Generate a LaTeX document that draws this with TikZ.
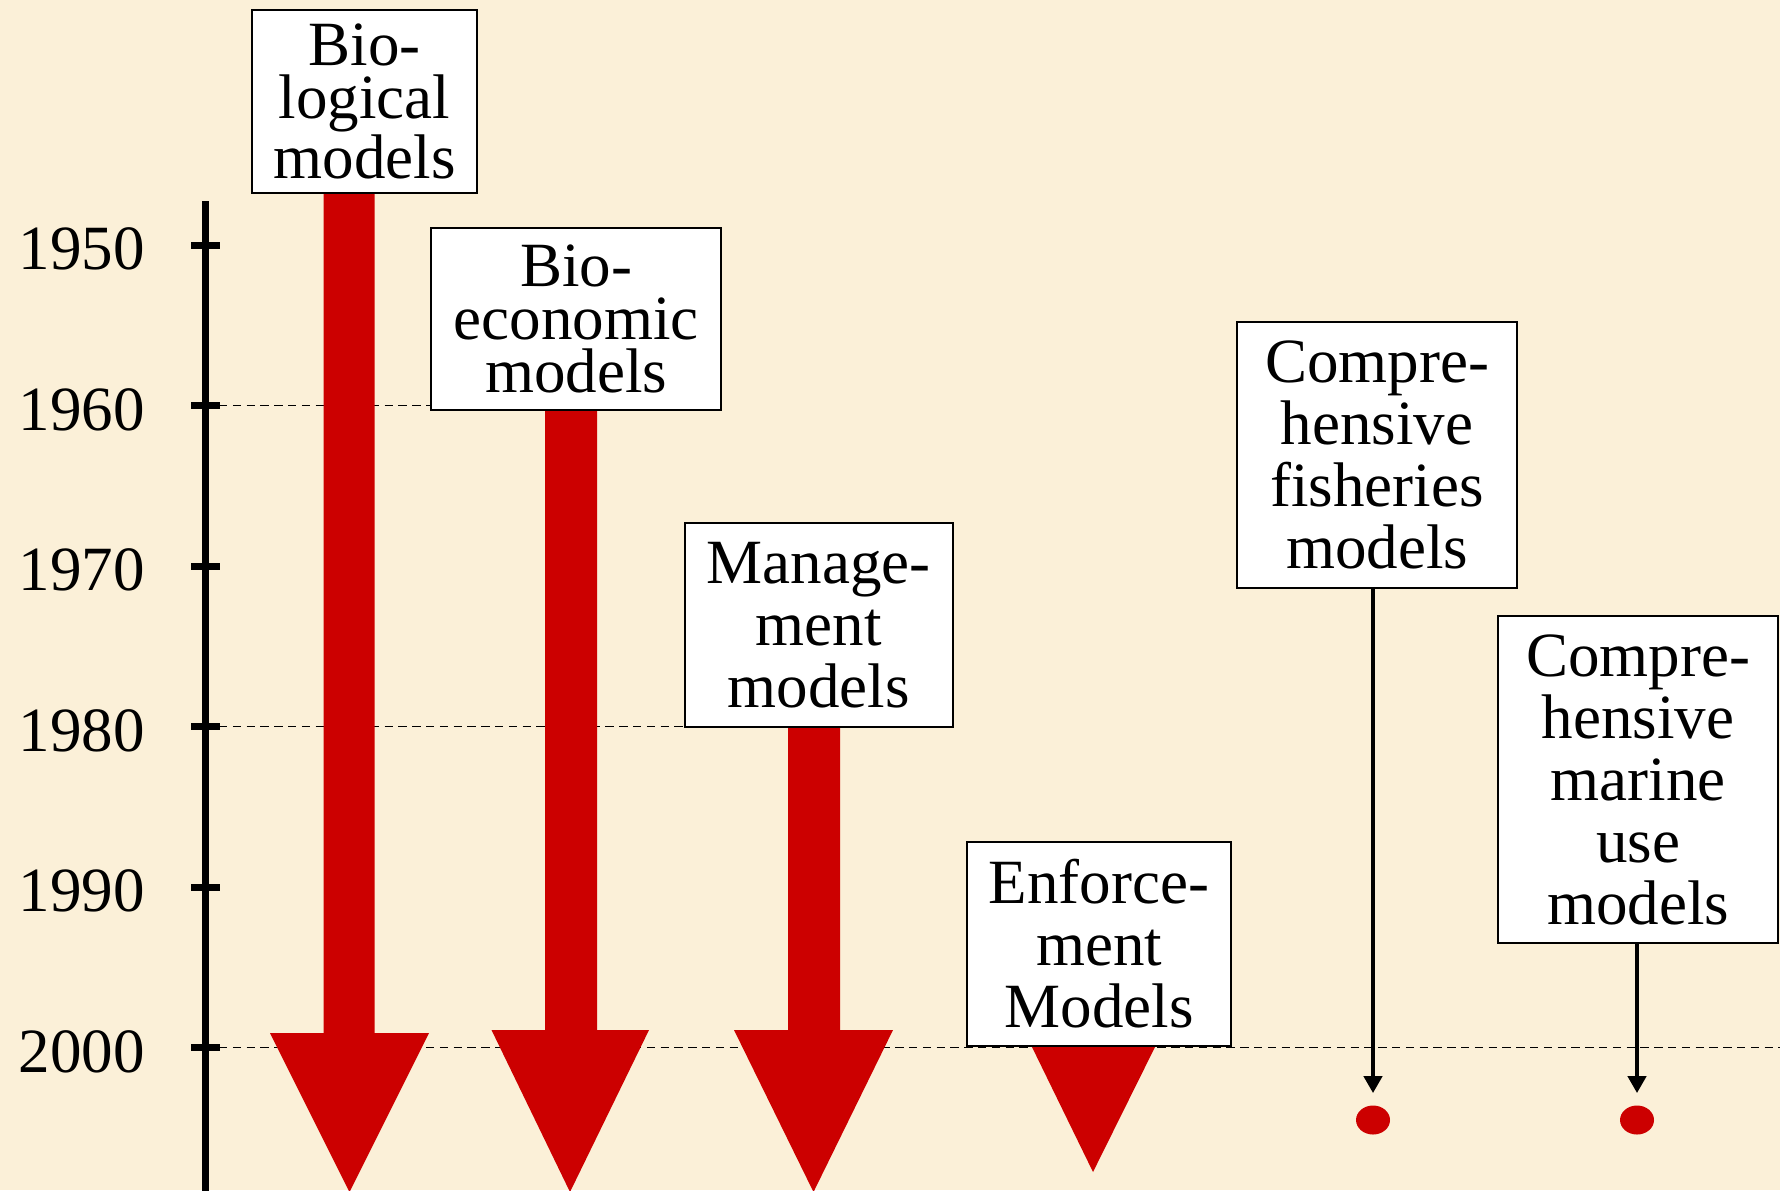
\documentclass[tikz,border=0pt]{standalone}
\usepackage{fontspec}
\setmainfont{Liberation Serif}
\usetikzlibrary{arrows.meta,shapes.geometric}
\definecolor{bgcol}{RGB}{251,240,216}
\definecolor{arrowred}{RGB}{204,0,0}
\begin{document}
\begin{tikzpicture}[x=0.5pt,y=-0.5pt,
  box/.style={draw=black, line width=1pt, fill=white, inner sep=0pt, align=center,
    font=\fontsize{31.5}{26.5}\selectfont},
  boxtall/.style={box, font=\fontsize{31.5}{31}\selectfont},
  yearlabel/.style={anchor=east, inner sep=0pt, font=\fontsize{31.5}{31}\selectfont},
  axisline/.style={line width=3.5pt, black},
  dashline/.style={line width=0.9pt, black, dash pattern=on 4.2pt off 2.7pt},
  redarrow/.style={fill=arrowred},
  blackarrow/.style={line width=2.1pt, black, -{Triangle[length=8.5pt,width=9pt]}},
  dot/.style={ellipse, fill=arrowred, inner sep=0pt, minimum width=17pt, minimum height=14.5pt}
]
\fill[bgcol] (0,0) rectangle (1780,1190);
\useasboundingbox (0,0) rectangle (1780,1190);

% dashed guide lines
\draw[dashline] (219,405.5) -- (431,405.5);
\draw[dashline] (219,726.5) -- (684.5,726.5);
\draw[dashline] (219,1047.5) -- (1780,1047.5);

% red arrows
\fill[redarrow] (323.5,193) -- (374.5,193) -- (374.5,1033) -- (429,1033) -- (349.5,1192) -- (270,1033) -- (323.5,1033) -- cycle;
\fill[redarrow] (545,410) -- (597,410) -- (597,1030) -- (649,1030) -- (570,1192) -- (491.5,1030) -- (545,1030) -- cycle;
\fill[redarrow] (788,727) -- (840,727) -- (840,1030) -- (893,1030) -- (813.5,1192) -- (734,1030) -- (788,1030) -- cycle;
\fill[redarrow] (1031,1045) -- (1156,1045) -- (1093,1172) -- cycle;

% boxes
\node[box, minimum width=112.5pt, minimum height=91.5pt] (box1) at (364.5,101.5) {Bio-\\logical\\models};
\node[box, minimum width=145pt, minimum height=91pt] (box2) at (576,319) {Bio-\\economic\\models};
\node[boxtall, minimum width=134pt, minimum height=102pt] (box3) at (818.5,625) {Manage-\\ment\\models};
\node[boxtall, minimum width=132pt, minimum height=102pt] (box4) at (1099,943.5) {Enforce-\\ment\\Models};
\node[boxtall, minimum width=140pt, minimum height=133pt] (box5) at (1377,455) {Compre-\\hensive\\fisheries\\models};
\node[boxtall, minimum width=140pt, minimum height=163.5pt] (box6) at (1638,779.5) {Compre-\\hensive\\marine\\use\\models};

% dots and black arrows
\node[dot] (d5) at (1373,1120) {};
\node[dot] (d6) at (1637,1120) {};
\draw[blackarrow] (box5.south -| d5) -- ([yshift=6pt]d5.north);
\draw[blackarrow] (box6.south -| d6) -- ([yshift=6pt]d6.north);

% time axis
\draw[axisline] (205.5,201) -- (205.5,1192);
\foreach \yr/\yy in {1950/245,1960/405.5,1970/566,1980/726.5,1990/887,2000/1047.5}{
  \draw[axisline] (191,\yy) -- (220,\yy);
  \node[yearlabel] (y\yr) at (145,\yy+4) {\yr};
}
\end{tikzpicture}
\end{document}
